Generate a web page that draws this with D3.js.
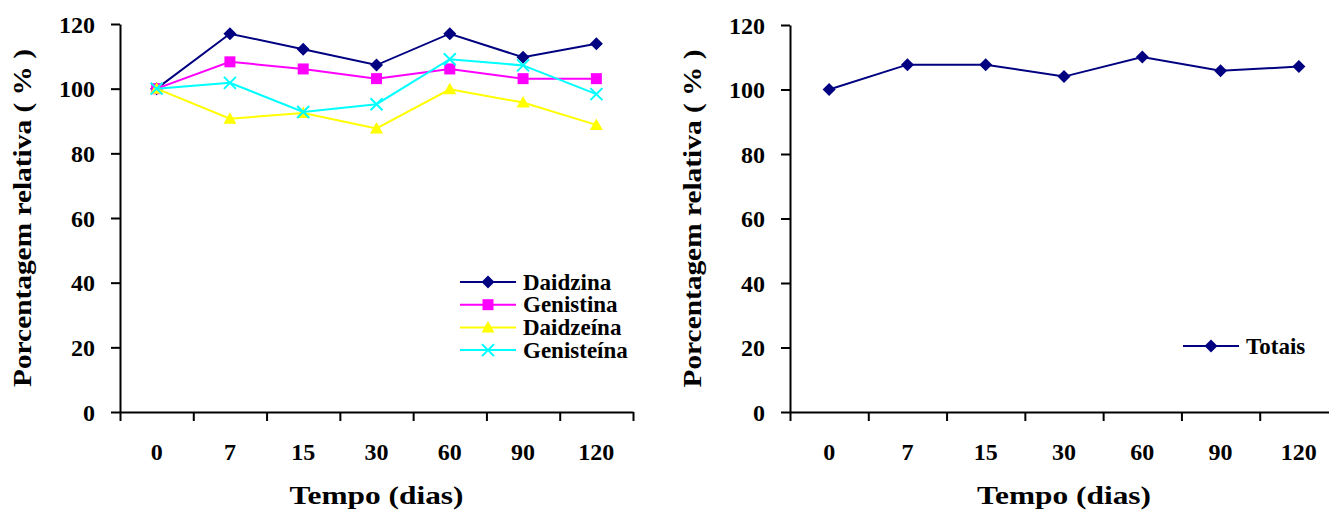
<!DOCTYPE html>
<html>
<head>
<meta charset="utf-8">
<script src="https://cdn.jsdelivr.net/npm/d3@7"></script>
<style>
  html, body { margin: 0; padding: 0; background: #fff; }
  svg { display: block; }
</style>
</head>
<body>
<script>
// ---- data ----
const categories = ["0", "7", "15", "30", "60", "90", "120"];
const daidzina   = [100, 117.0, 112.2, 107.3, 117.0, 109.7, 113.9];
const genistina  = [100, 108.3, 106.1, 103.1, 106.1, 103.1, 103.1];
const daidzeina  = [100, 90.7, 92.5, 87.7, 99.8, 95.7, 88.8];
const genisteina = [100, 101.8, 92.8, 95.2, 109.1, 107.2, 98.3];
const totais     = [100, 107.7, 107.7, 104.0, 110.1, 105.8, 107.1];
const yTicks = [0, 20, 40, 60, 80, 100, 120];
const xTitle = "Tempo (dias)";
const yTitle = "Porcentagem relativa ( % )";

const leftSeries = [
  { name: "Daidzina",   values: daidzina,   color: "#000080", marker: "diamond" },
  { name: "Genistina",  values: genistina,  color: "#FF00FF", marker: "square" },
  { name: "Daidzeína",  values: daidzeina,  color: "#FFFF00", marker: "triangle" },
  { name: "Genisteína", values: genisteina, color: "#00FFFF", marker: "x" }
];
const rightSeries = [
  { name: "Totais", values: totais, color: "#000080", marker: "diamond" }
];

const FONT = "'Liberation Serif', 'Times New Roman', Times, serif";
const W = 1329, H = 513;
const svg = d3.select("body").append("svg").attr("width", W).attr("height", H);
svg.append("rect").attr("width", W).attr("height", H).attr("fill", "#fff");

function markerPath(type) {
  switch (type) {
    case "diamond":  return "M0,-6.5L6.5,0L0,6.5L-6.5,0Z";
    case "square":   return "M-5.5,-5.5H5.5V5.5H-5.5Z";
    case "triangle": return "M0,-6.5L6.5,5L-6.5,5Z";
    case "x":        return "M-6,-6L6,6M-6,6L6,-6";
  }
}
function drawMarker(g, type, color, x, y) {
  const p = g.append("path").attr("d", markerPath(type))
    .attr("transform", `translate(${x},${y})`);
  if (type === "x") p.attr("fill", "none").attr("stroke", color).attr("stroke-width", 2);
  else p.attr("fill", color).attr("stroke", "none");
}
function styleText(sel, size) {
  sel.style("font-family", FONT).style("font-weight", "bold")
    .style("font-size", size + "px").attr("fill", "#000");
}

function drawChart(cfg) {
  const { x0, x1, yTop, yBot, series, legend, yTitleX, titleLen, yTitleLen } = cfg;
  const g = svg.append("g");
  const y = d3.scaleLinear().domain([0, 120]).range([yBot, yTop]);
  const xb = d3.scaleBand().domain(categories).range([x0, x1]);
  const xl = d3.scaleLinear().domain([0, categories.length]).range([x0, x1]);

  // y axis
  const ya = g.append("g").attr("transform", `translate(${x0},0)`)
    .call(d3.axisLeft(y).tickValues(yTicks).tickSize(9).tickSizeOuter(0).tickPadding(16));
  ya.select(".domain").attr("stroke", "#000").attr("stroke-width", 2);
  ya.selectAll(".tick line").attr("stroke", "#000").attr("stroke-width", 2);
  styleText(ya.selectAll(".tick text").attr("x", -25).attr("dy", "0.34em"), 24);

  // x axis boundary ticks
  const xa = g.append("g").attr("transform", `translate(0,${yBot})`)
    .call(d3.axisBottom(xl).ticks(categories.length).tickSize(9).tickSizeOuter(0).tickFormat(""));
  xa.select(".domain").attr("stroke", "#000").attr("stroke-width", 2);
  xa.selectAll(".tick line").attr("stroke", "#000").attr("stroke-width", 2);

  // x labels
  const xlab = g.append("g").attr("transform", `translate(0,${yBot})`)
    .call(d3.axisBottom(xb).tickSize(0));
  xlab.select(".domain").remove();
  styleText(xlab.selectAll(".tick text").attr("y", 48).attr("dy", 0), 24);

  // titles
  const tx = g.append("text").attr("x", (x0 + x1) / 2).attr("y", 504)
    .attr("text-anchor", "middle")
    .attr("textLength", titleLen).attr("lengthAdjust", "spacingAndGlyphs").text(xTitle);
  styleText(tx, 26);
  const ty = g.append("text").attr("transform", `translate(${yTitleX},${(yTop + yBot) / 2}) rotate(-90)`)
    .attr("text-anchor", "middle")
    .attr("textLength", yTitleLen).attr("lengthAdjust", "spacingAndGlyphs").text(yTitle);
  styleText(ty, 26);

  // lines
  const line = d3.line().x((d, i) => xb(categories[i]) + xb.bandwidth() / 2).y(d => y(d));
  series.forEach(s => {
    g.append("path").datum(s.values).attr("d", line)
      .attr("fill", "none").attr("stroke", s.color).attr("stroke-width", 2);
    s.values.forEach((v, i) => drawMarker(g, s.marker, s.color, xb(categories[i]) + xb.bandwidth() / 2, y(v)));
  });

  // legend
  series.forEach((s, i) => {
    const ly = legend.y + i * 22.7;
    g.append("line").attr("x1", legend.x).attr("x2", legend.x + 56).attr("y1", ly).attr("y2", ly)
      .attr("stroke", s.color).attr("stroke-width", 2);
    drawMarker(g, s.marker, s.color, legend.x + 28, ly);
    const t = g.append("text").attr("x", legend.x + 63).attr("y", ly).attr("dy", "0.33em").text(s.name);
    styleText(t, 23);
  });
}

drawChart({ x0: 120, x1: 633, yTop: 24, yBot: 412, series: leftSeries,
  legend: { x: 460, y: 282 }, yTitleX: 31, titleLen: 174, yTitleLen: 338 });
drawChart({ x0: 790, x1: 1338, yTop: 25, yBot: 412, series: rightSeries,
  legend: { x: 1183, y: 346 }, yTitleX: 701, titleLen: 174, yTitleLen: 338 });
</script>
</body>
</html>
